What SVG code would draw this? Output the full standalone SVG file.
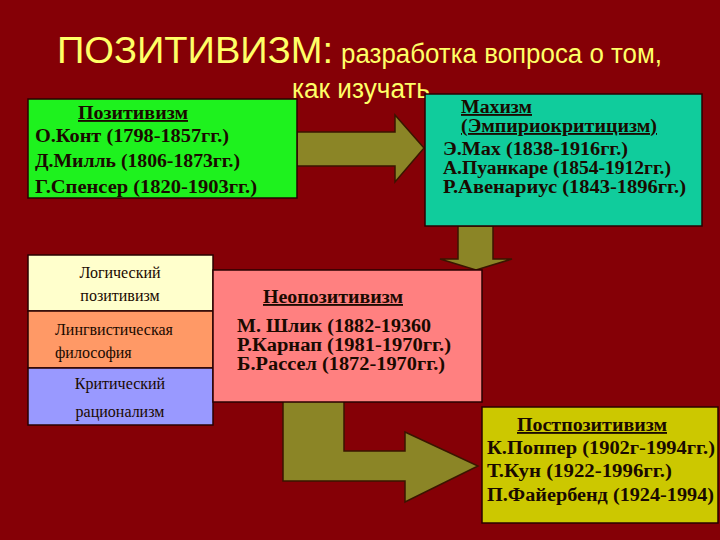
<svg xmlns="http://www.w3.org/2000/svg" width="720" height="540" viewBox="0 0 720 540">
<style>
.title{font-family:"Liberation Sans",Arial,sans-serif;fill:#FFFF66}
.b{font-family:"Liberation Serif","Times New Roman",serif;font-weight:bold;font-size:18.5px;fill:#1a0a00}
.r{font-family:"Liberation Serif","Times New Roman",serif;font-size:16px;fill:#1a0a00}
.u{text-decoration:underline}
.box{stroke:#2a0000;stroke-width:1.5}
.arrow{fill:#8B8526;stroke:#3a1500;stroke-width:1.5;stroke-linejoin:miter}
</style>
<rect x="0" y="0" width="720" height="540" fill="#850006"/>
<g id="title">
<text class="title" x="57" y="63" font-size="37" textLength="276" lengthAdjust="spacingAndGlyphs">ПОЗИТИВИЗМ:</text>
<text class="title" x="341" y="63" font-size="27" textLength="321" lengthAdjust="spacingAndGlyphs">разработка вопроса о том,</text>
<text class="title" x="292" y="98" font-size="27" textLength="138" lengthAdjust="spacingAndGlyphs">как изучать</text>
</g>
<g id="connectors">
<polygon class="arrow" points="297,132 395,132 395,115 424,148 395,182 395,166 297,166"/>
<polygon class="arrow" points="458,226 493,226 493,259 512,259 476,270 440,259 458,259"/>
<polygon class="arrow" points="283,400 344,400 344,451 405,451 405,432 478,466 405,502 405,481 283,481"/>
</g>
<g id="positivism">
<rect class="box" x="28" y="99" width="269" height="99" fill="#1EF21E"/>
<text class="b u" x="78" y="119" textLength="110" lengthAdjust="spacingAndGlyphs">Позитивизм</text>
<text class="b" x="35" y="142" textLength="194" lengthAdjust="spacingAndGlyphs">О.Конт (1798-1857гг.)</text>
<text class="b" x="35" y="167" textLength="205" lengthAdjust="spacingAndGlyphs">Д.Милль (1806-1873гг.)</text>
<text class="b" x="35" y="193" textLength="222" lengthAdjust="spacingAndGlyphs">Г.Спенсер (1820-1903гг.)</text>
</g>
<g id="machism">
<rect class="box" x="425" y="94" width="277" height="132" fill="#10CC9C"/>
<text class="b u" x="461" y="113" textLength="71" lengthAdjust="spacingAndGlyphs">Махизм</text>
<text class="b u" x="461" y="132" textLength="196" lengthAdjust="spacingAndGlyphs">(Эмпириокритицизм)</text>
<text class="b" x="443" y="155" textLength="185" lengthAdjust="spacingAndGlyphs">Э.Мах (1838-1916гг.)</text>
<text class="b" x="443" y="174" textLength="228" lengthAdjust="spacingAndGlyphs">А.Пуанкаре (1854-1912гг.)</text>
<text class="b" x="443" y="193" textLength="243" lengthAdjust="spacingAndGlyphs">Р.Авенариус (1843-1896гг.)</text>
</g>
<g id="logical-positivism">
<rect class="box" x="28" y="255" width="185" height="56" fill="#FFFFCC"/>
<text class="r" x="120" y="278" text-anchor="middle">Логический</text>
<text class="r" x="120" y="301" text-anchor="middle">позитивизм</text>
</g>
<g id="linguistic-philosophy">
<rect class="box" x="28" y="311" width="185" height="57" fill="#FF9966"/>
<text class="r" x="55" y="335">Лингвистическая</text>
<text class="r" x="55" y="358">философия</text>
</g>
<g id="critical-rationalism">
<rect class="box" x="28" y="368" width="185" height="57" fill="#9999FF"/>
<text class="r" x="120" y="389" text-anchor="middle">Критический</text>
<text class="r" x="120" y="417" text-anchor="middle">рационализм</text>
</g>
<g id="neopositivism">
<rect class="box" x="213" y="270" width="269" height="132" fill="#FF8080"/>
<text class="b u" x="263" y="303" textLength="140" lengthAdjust="spacingAndGlyphs">Неопозитивизм</text>
<text class="b" x="237" y="332" textLength="194" lengthAdjust="spacingAndGlyphs">М. Шлик (1882-19360</text>
<text class="b" x="237" y="351" textLength="214" lengthAdjust="spacingAndGlyphs">Р.Карнап (1981-1970гг.)</text>
<text class="b" x="237" y="370" textLength="208" lengthAdjust="spacingAndGlyphs">Б.Рассел (1872-1970гг.)</text>
</g>
<g id="postpositivism">
<rect class="box" x="482" y="407" width="236" height="116" fill="#CCC800"/>
<text class="b u" x="517" y="431" textLength="150" lengthAdjust="spacingAndGlyphs">Постпозитивизм</text>
<text class="b" x="487" y="454" textLength="228" lengthAdjust="spacingAndGlyphs">К.Поппер (1902г-1994гг.)</text>
<text class="b" x="487" y="477" textLength="185" lengthAdjust="spacingAndGlyphs">Т.Кун (1922-1996гг.)</text>
<text class="b" x="487" y="501" textLength="227" lengthAdjust="spacingAndGlyphs">П.Файербенд (1924-1994)</text>
</g>
</svg>
